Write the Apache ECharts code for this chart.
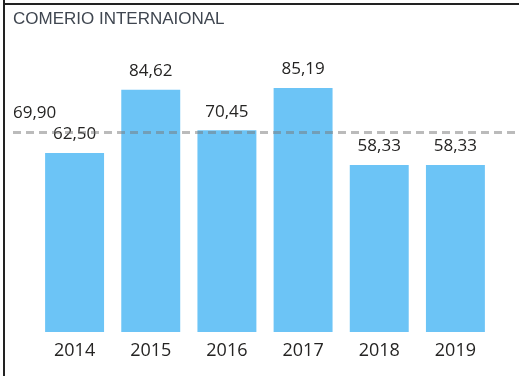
<!DOCTYPE html>
<html>
<head>
<meta charset="utf-8">
<script src="https://cdn.jsdelivr.net/npm/echarts@6/dist/echarts.min.js"></script>
<style>
  html, body { margin: 0; padding: 0; background: #ffffff; }
  #chart { width: 519px; height: 376px; }
</style>
</head>
<body>
<div id="chart"></div>
<script>
// Years shown on the category axis
const years = ['2014', '2015', '2016', '2017', '2018', '2019'];
// Score per year
const scores = [62.50, 84.62, 70.45, 85.19, 58.33, 58.33];
// Average reference value
const average = 69.90;

const fmt = v => v.toFixed(2).replace('.', ',');
const textColor = '#252423';
const fontFamily = '"Open Sans", "Noto Sans", sans-serif';
const yMax = 102;

const chart = echarts.init(document.getElementById('chart'), null, { renderer: 'canvas' });

chart.setOption({
  animation: false,
  backgroundColor: '#ffffff',
  title: {
    text: 'COMERIO INTERNAIONAL',
    left: 8,
    top: 6,
    textStyle: {
      fontFamily: '"Liberation Sans", Arial, sans-serif',
      fontSize: 17,
      fontWeight: 'normal',
      color: '#3f4650'
    }
  },
  graphic: [
    { type: 'line', shape: { x1: 4, y1: 0, x2: 4, y2: 376 }, style: { stroke: '#222', lineWidth: 2 } },
    { type: 'line', shape: { x1: 4, y1: 4, x2: 519, y2: 4 }, style: { stroke: '#222', lineWidth: 2 } }
  ],
  grid: [
    { left: 36.5, right: 25.5, top: 40, bottom: 44 },
    { left: 13, right: 0, top: 40, bottom: 44 }
  ],
  xAxis: [
    {
      type: 'category',
      gridIndex: 0,
      data: years,
      axisLine: { show: false },
      axisTick: { show: false },
      axisLabel: { color: textColor, fontFamily: fontFamily, fontSize: 18, margin: 10 }
    },
    { type: 'value', gridIndex: 1, min: 0, max: 1, show: false }
  ],
  yAxis: [
    { type: 'value', gridIndex: 0, min: 0, max: yMax, show: false },
    { type: 'value', gridIndex: 1, min: 0, max: yMax, show: false }
  ],
  series: [
    {
      type: 'bar',
      xAxisIndex: 0,
      yAxisIndex: 0,
      data: scores,
      barCategoryGap: '22.6%',
      z: 2,
      itemStyle: { color: '#6cc4f6' },
      label: {
        show: true,
        position: 'top',
        distance: 10,
        color: textColor,
        fontFamily: fontFamily,
        fontSize: 17,
        formatter: p => fmt(p.value)
      }
    },
    {
      // Average reference line across the full plot width, drawn over the bars
      type: 'line',
      xAxisIndex: 1,
      yAxisIndex: 1,
      data: [[0, average], [1, average]],
      symbol: 'none',
      silent: true,
      z: 10,
      zlevel: 1,
      lineStyle: { opacity: 0 },
      markLine: {
        silent: true,
        symbol: 'none',
        z: 10,
        lineStyle: { color: 'rgba(120,120,120,0.5)', width: 3, type: [8, 5] },
        data: [{ yAxis: average }],
        label: {
          position: 'insideStartTop',
          distance: [0, 10],
          color: textColor,
          fontFamily: fontFamily,
          fontSize: 17,
          formatter: () => fmt(average)
        }
      }
    }
  ]
});
</script>
</body>
</html>
